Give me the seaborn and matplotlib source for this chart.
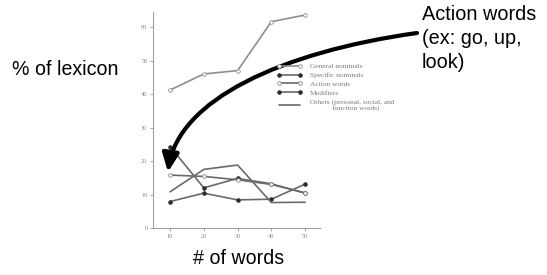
import numpy as np
import pandas as pd
import seaborn as sns
import matplotlib
matplotlib.use("Agg")
import matplotlib.pyplot as plt
from matplotlib.lines import Line2D
from matplotlib.patches import FancyArrowPatch, ArrowStyle
from matplotlib.path import Path

# ---- data ----
n_words = [10, 20, 30, 40, 50]
general_nominals = [41.2, 46.0, 47.0, 61.6, 63.6]
specific_nominals = [24.3, 12.0, 14.8, 13.2, 10.4]
action_words = [15.8, 15.4, 14.4, 13.0, 10.5]
modifiers = [7.9, 10.4, 8.4, 8.6, 13.1]
others = [10.8, 17.5, 18.8, 7.6, 7.7]
y_ticks = [0, 10, 20, 30, 40, 50, 60]
series_labels = ["General nominals", "Specific nominals", "Action words", "Modifiers",
                 "Others (personal, social, and\n            function words)"]

sns.set_style("ticks")
plt.rcParams['font.family'] = ['Liberation Sans', 'DejaVu Sans']

W, H = 547, 275
fig = plt.figure(figsize=(W / 100, H / 100), dpi=100)
fig.patch.set_facecolor("white")

def fx(px):
    return px / W

def fy(py):
    return 1 - py / H

ax = fig.add_axes([fx(153), fy(228), fx(320) - fx(153), fy(12) - fy(228)])

light = "#8e8e8e"
mid = "#6a6a6a"
dark = "#2a2a2a"

styles = [
    (general_nominals, light, "o", "white", light),
    (specific_nominals, mid, "o", dark, dark),
    (action_words, mid, "o", "white", "#888888"),
    (modifiers, mid, "o", dark, dark),
    (others, mid, None, None, None),
]

handles = []
for (vals, col, mk, mfc, mec), lab in zip(styles, series_labels):
    df = pd.DataFrame({"n": n_words, "v": vals})
    kw = dict(color=col, linewidth=1.2)
    if mk:
        kw.update(marker=mk, markersize=2.6, markerfacecolor=mfc, markeredgecolor=mec,
                  markeredgewidth=0.6)
    sns.lineplot(data=df, x="n", y="v", ax=ax, **kw)
    h = Line2D([0], [0], **kw)
    handles.append(h)

ax.set_xlim(4.96, 54.4)
ax.set_ylim(0, 64.5)
ax.set_xticks(n_words)
ax.set_yticks(y_ticks)
ax.set_xlabel("")
ax.set_ylabel("")
sns.despine(ax=ax)
for s in ["left", "bottom"]:
    ax.spines[s].set_color("#999999")
    ax.spines[s].set_linewidth(0.7)
ax.tick_params(axis="both", length=2, width=0.6, color="#999999", labelsize=4.6,
               labelcolor="#8a8a8a", pad=2)
for t in ax.get_xticklabels() + ax.get_yticklabels():
    t.set_fontfamily("Liberation Serif")

leg = fig.legend(handles, series_labels, loc="upper left",
                 bbox_to_anchor=(fx(277), fy(63)), bbox_transform=fig.transFigure,
                 frameon=False, borderpad=0, borderaxespad=0, numpoints=2,
                 handlelength=3.4, handletextpad=1.1, labelspacing=0.38,
                 prop={"family": "Liberation Serif", "size": 5.3})
for t in leg.get_texts():
    t.set_color("#7a7a7a")

# ---- annotations ----
fig.text(fx(12), fy(69), "% of lexicon", fontsize=14.1, color="black", va="center", ha="left")
fig.text(fx(193), fy(259), "# of words", fontsize=14.1, color="black", va="center", ha="left")
fig.text(fx(422), fy(5), "Action words\n(ex: go, up,\nlook)", fontsize=14.3, color="black",
         va="top", ha="left", linespacing=1.32)

verts = [(fx(417), fy(33)), (fx(281), fy(52)), (fx(178), fy(100)), (fx(168), fy(172))]
codes = [Path.MOVETO, Path.CURVE4, Path.CURVE4, Path.CURVE4]
arrow = FancyArrowPatch(path=Path(verts, codes),
                        arrowstyle=ArrowStyle("-|>", head_length=11, head_width=5),
                        mutation_scale=1, lw=3, color="black",
                        transform=fig.transFigure)
fig.add_artist(arrow)

fig.savefig("out.png", dpi=100, facecolor="white")
